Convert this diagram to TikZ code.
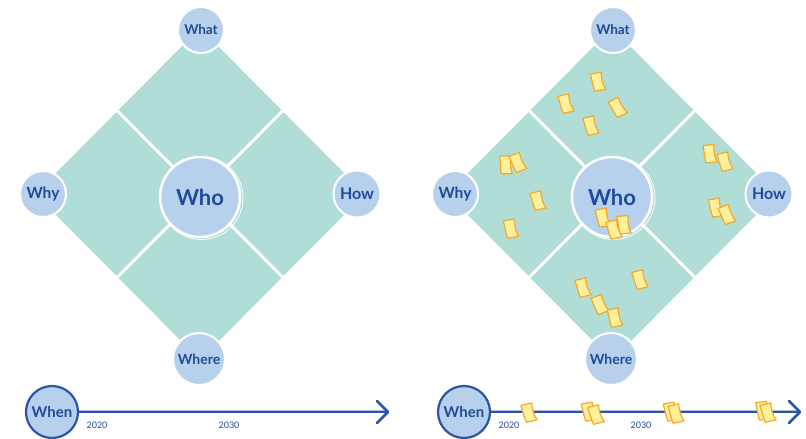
\documentclass[tikz,border=0pt]{standalone}
\usepackage{fontspec}
\setmainfont{Lato}
\definecolor{mint}{HTML}{B0DDD6}
\definecolor{cblue}{HTML}{B7D0EB}
\definecolor{tblue}{HTML}{1E4C9A}
\definecolor{lblue}{HTML}{2B55A6}
\definecolor{syel}{HTML}{FFF09C}
\definecolor{sorg}{HTML}{F5A82A}
\tikzset{
  vcircle/.style={circle, fill=cblue, draw=white, line width=2pt, text=tblue, inner sep=0pt, minimum size=#1},
  gapline/.style={white, line width=3pt},
  stickyst/.style={fill=syel, draw=sorg, line width=1.2pt, line join=round},
  yearlab/.style={text=tblue, font=\fontsize{9}{9}\selectfont},
  whenc/.style={circle, fill=cblue, draw=lblue, line width=2.2pt, text=tblue, inner sep=0pt, minimum size=52pt, font=\bfseries\fontsize{15}{16}\selectfont},
  tline/.style={lblue, line width=2.4pt},
  sticky/.pic={\filldraw[stickyst] (-6,-8.5) -- (5,-9.5) .. controls (4.5,-3) and (5.5,3) .. (8,8) -- (-3,9) .. controls (-4.5,3) and (-5,-3) .. cycle;}
}
\begin{document}
\begin{tikzpicture}[x=1pt,y=-1pt]
\useasboundingbox (0,0) rectangle (806,439);
\foreach \ox/\s in {0/L,412/R}{
\begin{scope}[xshift=\ox pt]
  \fill[mint] (200,28) -- (365,194) -- (200,360) -- (35,194) -- cycle;
  \coordinate (c\s) at (200,194);
  \coordinate (m1\s) at (117.5,111);
  \coordinate (m2\s) at (282.5,111);
  \coordinate (m3\s) at (282.5,277);
  \coordinate (m4\s) at (117.5,277);
  \foreach \m in {1,2,3,4}{\draw[gapline] (c\s) -- (m\m\s);}
  \node[vcircle=46pt, font=\bfseries\fontsize{13.5}{15}\selectfont] (what\s) at (201,30) {What};
  \node[vcircle=46pt, font=\bfseries\fontsize{15.5}{17}\selectfont] (why\s) at (43,194) {Why};
  \node[vcircle=47pt, font=\bfseries\fontsize{16}{17}\selectfont] (how\s) at (357,194) {How};
  \node[vcircle=52pt, font=\bfseries\fontsize{14}{15}\selectfont] (where\s) at (199,359) {Where};
  \node[vcircle=80pt, line width=2.5pt, font=\bfseries\fontsize{22}{24}\selectfont] (who\s) at (200,197) {Who};
  \draw[white, line width=0.8pt] (who\s.center) ++(1.5,1) circle (41.5pt);
  % timeline
  \node[whenc] (when\s) at (52,412) {When};
  \coordinate (tip\s) at (388,412);
  \draw[tline] (when\s.east) -- (tip\s);
  \draw[lblue!40, line width=1pt] ([yshift=1.3pt]when\s.east) -- ([yshift=1.3pt]tip\s);
  \draw[tline, line width=2.8pt, line cap=round, line join=round] (tip\s) ++(-11,-11) -- (tip\s) -- ++(-11,11);
  \node[yearlab] (y1\s) at (97,425) {2020};
  \node[yearlab] (y2\s) at (229,425) {2030};
\end{scope}
}
% sticky notes (right diagram)
\pic[rotate=5] at (597,82) {sticky};
\pic[rotate=8] at (565,104) {sticky};
\pic[rotate=22] at (617,108) {sticky};
\pic[rotate=8] at (590,126) {sticky};
\pic[rotate=-5] at (505,165) {sticky};
\pic[rotate=15] at (517,163) {sticky};
\pic[rotate=8] at (537,201) {sticky};
\pic[rotate=5] at (510,229) {sticky};
\pic[rotate=5] at (602,218) {sticky};
\pic[rotate=0] at (623,225) {sticky};
\pic[rotate=8] at (613,230) {sticky};
\pic[rotate=0] at (709,154) {sticky};
\pic[rotate=8] at (724,162) {sticky};
\pic[rotate=5] at (715,208) {sticky};
\pic[rotate=15] at (726,215) {sticky};
\pic[rotate=8] at (582,288) {sticky};
\pic[rotate=15] at (599,305) {sticky};
\pic[rotate=5] at (614,318) {sticky};
\pic[rotate=8] at (639,280) {sticky};
\pic[rotate=8] at (528,413) {sticky};
\pic[rotate=5] at (588,412) {sticky};
\pic[rotate=10] at (595,415) {sticky};
\pic[rotate=5] at (670,412) {sticky};
\pic[rotate=8] at (675,414) {sticky};
\pic[rotate=3] at (762,411) {sticky};
\pic[rotate=8] at (767,413) {sticky};
\end{tikzpicture}
\end{document}
